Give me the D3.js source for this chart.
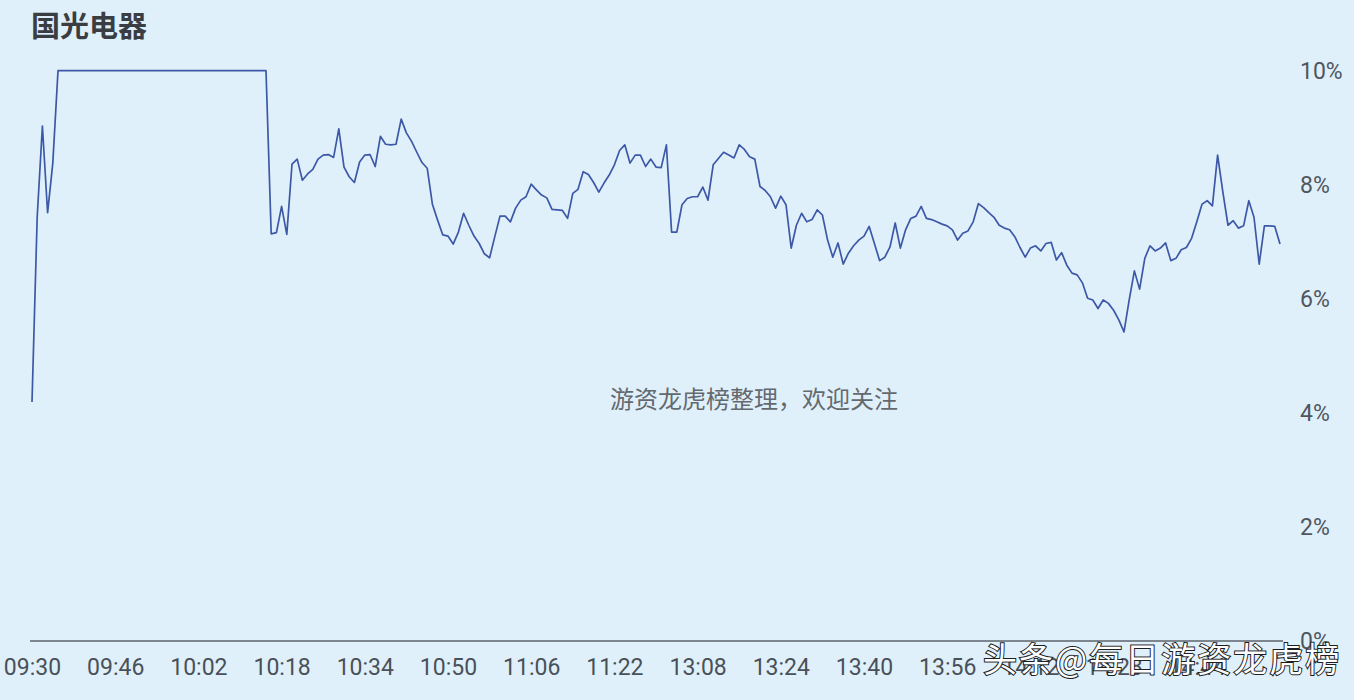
<!DOCTYPE html>
<html>
<head>
<meta charset="utf-8">
<script src="https://cdn.jsdelivr.net/npm/d3@7"></script>
<style>
  html, body { margin: 0; padding: 0; background: #dff0fb; }
  svg { display: block; }
</style>
</head>
<body>
<script>
var width = 1354;
var height = 700;

var title = "国光电器"
var tickLabels = ["09:30", "09:46", "10:02", "10:18", "10:34", "10:50", "11:06", "11:22",
                  "13:08", "13:24", "13:40", "13:56", "14:12", "14:28", "14:44"]
var tickMinutes = [0, 16, 32, 48, 64, 80, 96, 112, 128, 144, 160, 176, 192, 208, 224]
var yTicks = [0, 2, 4, 6, 8, 10]

// percent change, one value per trading minute (09:30 .. 15:00, lunch break removed)
var pct = [
  4.19, 7.44, 9.03, 7.51, 8.38,
  10, 10, 10, 10, 10, 10, 10, 10, 10, 10, 10, 10, 10, 10, 10, 10, 10, 10, 10, 10, 10,
  10, 10, 10, 10, 10, 10, 10, 10, 10, 10, 10, 10, 10, 10, 10, 10, 10, 10, 10, 10,
  7.14, 7.16, 7.62, 7.13, 8.36, 8.45, 8.08, 8.19, 8.27, 8.45,
  8.52, 8.53, 8.48, 8.98, 8.31, 8.14, 8.04, 8.40, 8.52, 8.53,
  8.32, 8.85, 8.71, 8.70, 8.71, 9.15, 8.91, 8.76, 8.57, 8.39,
  8.29, 7.66, 7.38, 7.12, 7.10, 6.96, 7.17, 7.50, 7.29, 7.10,
  6.97, 6.79, 6.72, 7.09, 7.45, 7.45, 7.35, 7.59, 7.73, 7.79,
  8.01, 7.91, 7.82, 7.77, 7.57, 7.56, 7.55, 7.41, 7.85, 7.92,
  8.23, 8.18, 8.04, 7.87, 8.03, 8.17, 8.35, 8.60, 8.70, 8.38,
  8.52, 8.52, 8.32, 8.45, 8.31, 8.30, 8.70, 7.17, 7.17, 7.65,
  7.76, 7.79, 7.79, 7.96, 7.73, 8.35, 8.46, 8.57, 8.52, 8.47,
  8.70, 8.62, 8.49, 8.45, 7.97, 7.90, 7.79, 7.59, 7.80, 7.65,
  6.89, 7.29, 7.50, 7.35, 7.39, 7.56, 7.47, 7.03, 6.73, 6.98,
  6.61, 6.80, 6.93, 7.03, 7.10, 7.27, 6.97, 6.67, 6.73, 6.91,
  7.33, 6.89, 7.21, 7.41, 7.45, 7.62, 7.41, 7.39, 7.35, 7.31,
  7.28, 7.21, 7.03, 7.15, 7.19, 7.35, 7.67, 7.60, 7.51, 7.43,
  7.29, 7.24, 7.21, 7.09, 6.90, 6.73, 6.89, 6.93, 6.84, 6.97,
  6.99, 6.68, 6.81, 6.59, 6.45, 6.42, 6.28, 6.01, 5.98, 5.83,
  5.98, 5.92, 5.80, 5.63, 5.42, 5.98, 6.49, 6.17, 6.71, 6.93,
  6.84, 6.89, 6.98, 6.67, 6.71, 6.86, 6.90, 7.06, 7.35, 7.66,
  7.72, 7.63, 8.52, 7.88, 7.29, 7.37, 7.24, 7.28, 7.72, 7.43,
  6.61, 7.28, 7.28, 7.27, 6.96
]

var note = "游资龙虎榜整理，欢迎关注"
var mark = "头条@每日游资龙虎榜"

var x = d3.scaleLinear()
.domain([0, 240])
.range([32, 1280]);

var y = d3.scaleLinear()
.domain([0, 10])
.range([641, 70.7]);

var svg = d3.select("body").append("svg")
.attr("width", width)
.attr("height", height)

svg.append("rect")
.attr("width", width)
.attr("height", height)
.attr("fill", "#dff0fb")

svg.append("text")
.attr("x", 31)
.attr("y", 37)
.attr("font-family", "'Noto Sans CJK SC', sans-serif")
.attr("font-size", 29)
.attr("font-weight", "bold")
.attr("fill", "#3a3d42")
.text(title)

// bottom axis
var xAxis = svg.append("g")
.attr("transform", "translate(0,641)")
.call(d3.axisBottom(x)
  .tickValues(tickMinutes)
  .tickSize(0)
  .tickPadding(34)
  .tickFormat(function(d, i) { return tickLabels[i] }))

xAxis.select(".domain")
.attr("d", "M30,0H1283")
.attr("stroke", "#5c636b")
.attr("stroke-width", 1.5)

xAxis.selectAll("text")
.attr("font-family", "Roboto, sans-serif")
.attr("font-size", 23)
.attr("fill", "#4a5058")
.attr("dy", 0)

// right axis
var yAxis = svg.append("g")
.attr("transform", "translate(1300,0)")
.call(d3.axisRight(y)
  .tickValues(yTicks)
  .tickSize(0)
  .tickPadding(0)
  .tickFormat(function(d) { return d + "%" }))

yAxis.select(".domain").remove()
yAxis.selectAll("text")
.attr("font-family", "Roboto, sans-serif")
.attr("font-size", 23)
.attr("fill", "#50565e")

var line = d3.line()
.x(function(d, i) { return x(i) })
.y(function(d) { return y(d) })

svg.append("path")
.datum(pct)
.attr("d", line)
.attr("fill", "none")
.attr("stroke", "#3d58a6")
.attr("stroke-width", 1.7)
.attr("stroke-linejoin", "round")

svg.append("text")
.attr("x", 754)
.attr("y", 408)
.attr("text-anchor", "middle")
.attr("font-family", "'Noto Sans CJK SC', sans-serif")
.attr("font-size", 24)
.attr("fill", "#64696f")
.text(note)

svg.append("text")
.attr("x", 983)
.attr("y", 672)
.attr("font-family", "'Noto Sans CJK SC', sans-serif")
.attr("font-size", 34)
.attr("letter-spacing", 2)
.attr("fill", "#ffffff")
.attr("stroke", "#1e1e1e")
.attr("stroke-width", 2)
.attr("paint-order", "stroke")
.text(mark)
</script>
</body>
</html>
